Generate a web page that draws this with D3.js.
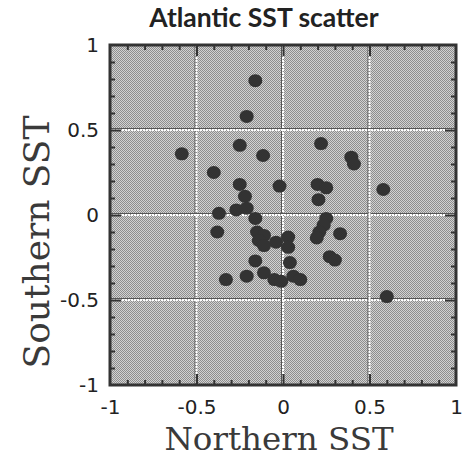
<!DOCTYPE html>
<html>
<head>
<meta charset="utf-8">
<script src="https://cdn.jsdelivr.net/npm/d3@7"></script>
<style>
  html, body { margin: 0; padding: 0; background: #fff; }
  svg { display: block; }
</style>
</head>
<body>
<div id="chart"></div>
<script>
const title = "Atlantic SST scatter";
const xLabel = "Northern SST";
const yLabel = "Southern SST";
const majorTicks = [-1, -0.5, 0, 0.5, 1];
const tickLabels = ["-1", "-0.5", "0", "0.5", "1"];
const minorTicks = [-0.9,-0.8,-0.7,-0.6,-0.4,-0.3,-0.2,-0.1,0.1,0.2,0.3,0.4,0.6,0.7,0.8,0.9];
const northern = [-0.16,-0.21,-0.25,-0.115,-0.585,0.22,-0.40,-0.25,-0.02,0.20,0.25,0.395,0.41,0.205,0.58,0.25,
  -0.22,-0.27,-0.21,-0.37,-0.16,-0.38,-0.15,-0.11,-0.14,-0.11,-0.04,0.03,0.03,0.235,0.21,0.195,0.33,0.27,0.30,
  -0.16,0.04,-0.11,-0.21,-0.33,-0.05,-0.01,0.06,0.10,0.60];
const southern = [0.79,0.58,0.41,0.35,0.36,0.42,0.25,0.18,0.17,0.18,0.16,0.34,0.30,0.09,0.15,-0.02,
  0.11,0.03,0.04,0.01,-0.02,-0.10,-0.10,-0.12,-0.15,-0.18,-0.16,-0.13,-0.19,-0.06,-0.10,-0.135,-0.11,-0.245,-0.265,
  -0.27,-0.28,-0.34,-0.36,-0.38,-0.38,-0.39,-0.36,-0.38,-0.48];

const W = 462, H = 464;
const svg = d3.select("#chart").append("svg").attr("width", W).attr("height", H);

const x = d3.scaleLinear().domain([-1, 1]).range([110, 456]);
const y = d3.scaleLinear().domain([-1, 1]).range([385, 45]);

// stipple pattern
const defs = svg.append("defs");
const pat = defs.append("pattern").attr("id", "stip").attr("patternUnits", "userSpaceOnUse")
  .attr("width", 2).attr("height", 2);
pat.append("rect").attr("width", 2).attr("height", 2).attr("fill", "#d2d2d2");
pat.append("rect").attr("width", 1).attr("height", 1).attr("fill", "#8e8e8e");
pat.append("rect").attr("x", 1).attr("y", 1).attr("width", 1).attr("height", 1).attr("fill", "#8e8e8e");

svg.append("rect")
  .attr("x", x(-1)).attr("y", y(1))
  .attr("width", x(1) - x(-1)).attr("height", y(-1) - y(1))
  .attr("fill", "url(#stip)");

// grid lines
const gridVals = [-0.5, 0, 0.5];
const grid = svg.append("g");
gridVals.forEach(v => {
  grid.append("line").attr("x1", x(v) - 1.5).attr("x2", x(v) - 1.5).attr("y1", y(1)).attr("y2", y(-1))
    .attr("stroke", "#555").attr("stroke-width", 1);
  grid.append("line").attr("x1", x(v)).attr("x2", x(v)).attr("y1", y(1)).attr("y2", y(-1))
    .attr("stroke", "#fff").attr("stroke-width", 2).attr("stroke-dasharray", "2,1");
  grid.append("line").attr("y1", y(v) - 1.5).attr("y2", y(v) - 1.5).attr("x1", x(-1)).attr("x2", x(1))
    .attr("stroke", "#555").attr("stroke-width", 1);
  grid.append("line").attr("y1", y(v)).attr("y2", y(v)).attr("x1", x(-1)).attr("x2", x(1))
    .attr("stroke", "#fff").attr("stroke-width", 2).attr("stroke-dasharray", "2,1");
});

// points
const pts = northern.map((n, i) => ({ n, s: southern[i] }));
svg.append("g").selectAll("ellipse").data(pts).enter().append("ellipse")
  .attr("cx", d => x(d.n)).attr("cy", d => y(d.s))
  .attr("rx", 7).attr("ry", 6.5)
  .attr("fill", "#333");

// axes with inward ticks (all four sides)
const tickColor = "#333";
function styleAxis(g) {
  g.select(".domain").remove();
  g.selectAll(".tick line").attr("stroke", tickColor).attr("stroke-width", 2);
}
const fmt = (d) => tickLabels[majorTicks.indexOf(d)];

function ticksOn(axisFn, transform) {
  const g1 = svg.append("g").attr("transform", transform);
  g1.call(axisFn.tickValues(minorTicks).tickSize(-5).tickFormat(""));
  styleAxis(g1);
}
function majorOn(axisFn, transform) {
  const g2 = svg.append("g").attr("transform", transform);
  g2.call(axisFn.tickValues([-0.5, 0, 0.5]).tickSize(-11).tickFormat(""));
  styleAxis(g2);
}
ticksOn(d3.axisBottom(x), `translate(0,${y(-1)})`);
majorOn(d3.axisBottom(x), `translate(0,${y(-1)})`);
ticksOn(d3.axisTop(x), `translate(0,${y(1)})`);
majorOn(d3.axisTop(x), `translate(0,${y(1)})`);
ticksOn(d3.axisLeft(y), `translate(${x(-1)},0)`);
majorOn(d3.axisLeft(y), `translate(${x(-1)},0)`);
ticksOn(d3.axisRight(y), `translate(${x(1)},0)`);
majorOn(d3.axisRight(y), `translate(${x(1)},0)`);

// frame
svg.append("rect")
  .attr("x", x(-1)).attr("y", y(1))
  .attr("width", x(1) - x(-1)).attr("height", y(-1) - y(1))
  .attr("fill", "none").attr("stroke", "#333").attr("stroke-width", 3);

// tick labels
const tickFont = "'DejaVu Sans', sans-serif";
const xl = svg.append("g").attr("transform", `translate(0,${y(-1) + 5})`);
xl.call(d3.axisBottom(x).tickValues(majorTicks).tickSize(0).tickPadding(10).tickFormat(fmt));
xl.select(".domain").remove();
xl.attr("font-size", 20).attr("font-family", tickFont);
xl.selectAll("text").style("font-family", tickFont).style("font-size", "20px").attr("fill", "#222");

const yl = svg.append("g").attr("transform", `translate(${x(-1) - 11},0)`);
yl.call(d3.axisLeft(y).tickValues(majorTicks).tickSize(0).tickPadding(0).tickFormat(fmt));
yl.select(".domain").remove();
yl.attr("font-size", 20).attr("font-family", tickFont);
yl.selectAll("text").style("font-family", tickFont).style("font-size", "20px").attr("fill", "#222");

// title
svg.append("text").attr("x", 264).attr("y", 27).attr("text-anchor", "middle")
  .attr("font-family", "Lato, 'Open Sans', sans-serif").attr("font-weight", 700).attr("font-size", 26.5)
  .attr("fill", "#222").text(title);

// axis titles
svg.append("text").attr("x", 279).attr("y", 450).attr("text-anchor", "middle")
  .attr("font-family", "'DejaVu Serif', serif").attr("font-size", 32.5)
  .attr("fill", "#3a3a3a").text(xLabel);

svg.append("text").attr("transform", `translate(49,242) rotate(-90)`).attr("text-anchor", "middle")
  .attr("font-family", "'DejaVu Serif', serif").attr("font-size", 36)
  .attr("fill", "#3a3a3a").text(yLabel);
</script>
</body>
</html>
